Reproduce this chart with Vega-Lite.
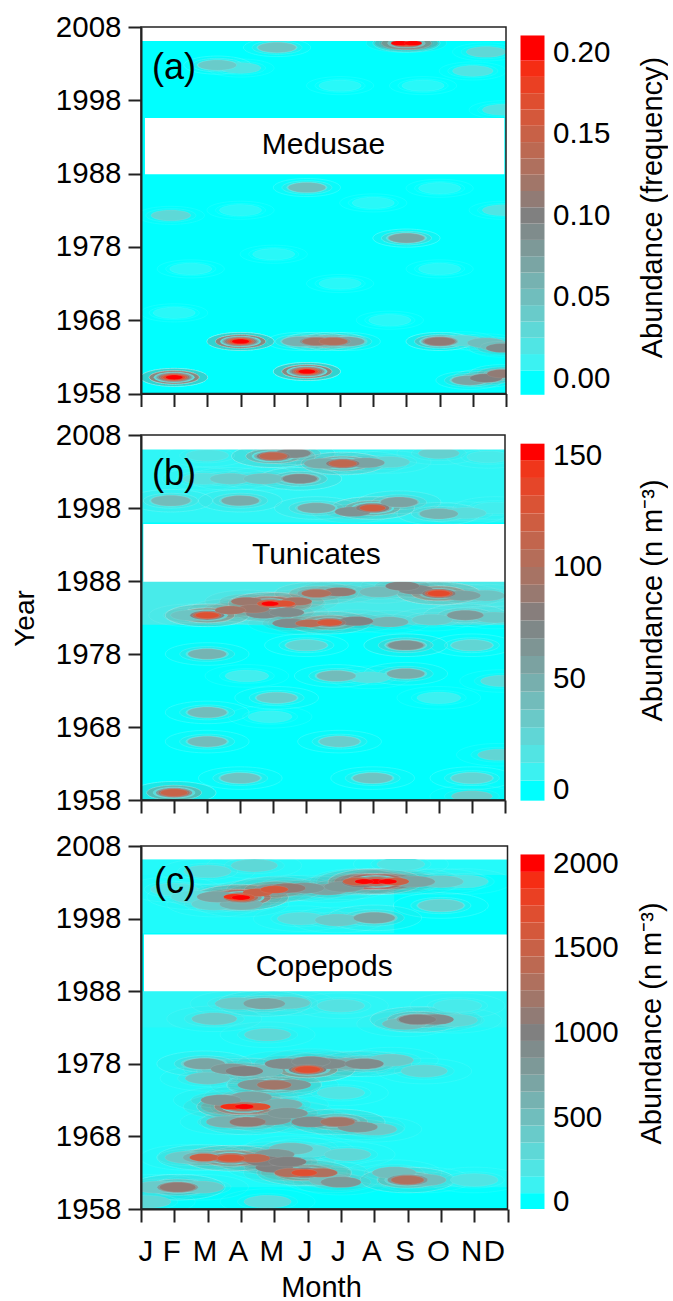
{"$schema":"https://vega.github.io/schema/vega-lite/v6.json","background":"white","padding":{"left":11,"top":12,"right":0,"bottom":0},
"config":{"font":"Liberation Sans","view":{"stroke":null},"axis":{"labelFont":"Liberation Sans","titleFont":"Liberation Sans","labelFontSize":29.5,"titleFontSize":29,"labelColor":"#000","titleColor":"#000","titleFontWeight":"normal","grid":false,"tickColor":"#222","domainColor":"#222","tickWidth":2,"domainWidth":2,"tickSize":13}},
"datasets":{
"a":[{"m":2,"y":1960.2,"v":0.02},{"m":2,"y":1960.2,"v":0.05},{"m":2,"y":1960.2,"v":0.08},{"m":2,"y":1960.2,"v":0.11},{"m":2,"y":1960.2,"v":0.14},{"m":2,"y":1960.2,"v":0.17},{"m":2,"y":1960.2,"v":0.2},
{"m":4,"y":1965.1,"v":0.02},{"m":4,"y":1965.1,"v":0.05},{"m":4,"y":1965.1,"v":0.08},{"m":4,"y":1965.1,"v":0.11},{"m":4,"y":1965.1,"v":0.14},{"m":4,"y":1965.1,"v":0.17},{"m":4,"y":1965.1,"v":0.2},
{"m":6,"y":1961,"v":0.02},{"m":6,"y":1961,"v":0.05},{"m":6,"y":1961,"v":0.08},{"m":6,"y":1961,"v":0.11},{"m":6,"y":1961,"v":0.14},{"m":6,"y":1961,"v":0.17},{"m":6,"y":1961,"v":0.2},
{"m":5.8,"y":1965.1,"v":0.03},{"m":5.8,"y":1965.1,"v":0.06},{"m":6.3,"y":1965.1,"v":0.04},{"m":6.3,"y":1965.1,"v":0.08},{"m":6.3,"y":1965.1,"v":0.12},{"m":6.8,"y":1965.1,"v":0.04},{"m":6.8,"y":1965.1,"v":0.08},{"m":6.8,"y":1965.1,"v":0.13},{"m":7.2,"y":1965.1,"v":0.03},{"m":7.2,"y":1965.1,"v":0.07},
{"m":10,"y":1965.1,"v":0.02},{"m":10,"y":1965.1,"v":0.05},{"m":10,"y":1965.1,"v":0.08},{"m":10,"y":1965.1,"v":0.11},{"m":10.7,"y":1965.2,"v":0.03},{"m":11.4,"y":1964.9,"v":0.05},{"m":11.8,"y":1964.4,"v":0.05},{"m":11.9,"y":1964.2,"v":0.09},
{"m":10.9,"y":1959.8,"v":0.03},{"m":10.9,"y":1959.8,"v":0.07},{"m":11.4,"y":1960.1,"v":0.05},{"m":11.4,"y":1960.1,"v":0.1},{"m":11.9,"y":1960.7,"v":0.05},{"m":11.9,"y":1960.7,"v":0.11},
{"m":9,"y":1979.2,"v":0.02},{"m":9,"y":1979.2,"v":0.05},{"m":9,"y":1979.2,"v":0.07},
{"m":9,"y":2005.8,"v":0.05},{"m":9,"y":2005.8,"v":0.11},{"m":9,"y":2005.8,"v":0.16},{"m":8.8,"y":2005.8,"v":0.2},{"m":9.2,"y":2005.8,"v":0.2},
{"m":6,"y":1986.1,"v":0.02},{"m":6,"y":1986.1,"v":0.05},{"m":1.9,"y":1982.3,"v":0.03},{"m":5.1,"y":2005.2,"v":0.02},{"m":5.1,"y":2005.2,"v":0.045},{"m":3.3,"y":2002.8,"v":0.02},{"m":3.3,"y":2002.8,"v":0.04},{"m":4,"y":2002.4,"v":0.02},{"m":11,"y":2002,"v":0.02},{"m":11.4,"y":2004.6,"v":0.03},{"m":11.9,"y":1983,"v":0.02},{"m":11.9,"y":1996.7,"v":0.02},
{"m":2.5,"y":1975,"v":0.005},{"m":5,"y":1977,"v":0.005},{"m":7,"y":1973,"v":0.005},{"m":10,"y":1975,"v":0.005},{"m":4,"y":1983,"v":0.005},{"m":8,"y":1984,"v":0.005},{"m":10,"y":1986,"v":0.005},{"m":7,"y":2000,"v":0.005},{"m":9.5,"y":2000,"v":0.005},{"m":2,"y":1969,"v":0.005},{"m":8.5,"y":1968,"v":0.005}],
"ab":[{"lo":-0.01,"hi":0.005,"v":0},{"lo":0.005,"hi":0.015,"v":0.01},{"lo":0.015,"hi":0.025,"v":0.02},{"lo":0.025,"hi":0.035,"v":0.03},{"lo":0.035,"hi":0.045,"v":0.04},{"lo":0.045,"hi":0.055,"v":0.05},{"lo":0.055,"hi":0.065,"v":0.06},{"lo":0.065,"hi":0.075,"v":0.07},{"lo":0.075,"hi":0.085,"v":0.08},{"lo":0.085,"hi":0.095,"v":0.09},{"lo":0.095,"hi":0.105,"v":0.1},{"lo":0.105,"hi":0.115,"v":0.11},{"lo":0.115,"hi":0.125,"v":0.12},{"lo":0.125,"hi":0.135,"v":0.13},{"lo":0.135,"hi":0.145,"v":0.14},{"lo":0.145,"hi":0.155,"v":0.15},{"lo":0.155,"hi":0.165,"v":0.16},{"lo":0.165,"hi":0.175,"v":0.17},{"lo":0.175,"hi":0.185,"v":0.18},{"lo":0.185,"hi":0.195,"v":0.19},{"lo":0.195,"hi":0.2104,"v":0.2}],
"b":[{"m":5,"y":2005.1,"v":15},{"m":5,"y":2005.1,"v":45},{"m":5,"y":2005.1,"v":80},{"m":5,"y":2005.1,"v":110},{"m":5.6,"y":2005.5,"v":40},{"m":5.6,"y":2005.5,"v":70},{"m":7.1,"y":2004.1,"v":15},{"m":7.1,"y":2004.1,"v":45},{"m":7.1,"y":2004.1,"v":80},{"m":7.1,"y":2004.1,"v":110},{"m":6.5,"y":2004.1,"v":50},{"m":7.8,"y":2004.2,"v":55},{"m":8.5,"y":2004.3,"v":25},
{"m":5.8,"y":2002,"v":20},{"m":5.8,"y":2002,"v":45},{"m":5.8,"y":2002,"v":70},{"m":4.7,"y":2002,"v":35},{"m":3.7,"y":2002,"v":30},{"m":2.9,"y":2002,"v":18},{"m":10,"y":2005.5,"v":28},{"m":3,"y":2005.2,"v":15},{"m":11.5,"y":2005,"v":12},{"m":1.9,"y":1999,"v":18},{"m":1.9,"y":1999,"v":40},{"m":4,"y":1999,"v":20},{"m":4,"y":1999,"v":50},
{"m":8,"y":1998,"v":15},{"m":8,"y":1998,"v":45},{"m":8,"y":1998,"v":80},{"m":8,"y":1998,"v":120},{"m":6.3,"y":1998,"v":20},{"m":6.3,"y":1998,"v":50},{"m":7.4,"y":1997.5,"v":65},{"m":8.8,"y":1998.8,"v":30},{"m":8.8,"y":1998.8,"v":55},{"m":10,"y":1997.2,"v":20},{"m":10,"y":1997.2,"v":45},{"m":10.8,"y":1997.3,"v":20},{"m":11.7,"y":1998,"v":10},
{"m":10,"y":1986.3,"v":40},{"m":10,"y":1986.3,"v":80},{"m":10,"y":1986.3,"v":110},{"m":10,"y":1986.3,"v":135},{"m":8.9,"y":1987.3,"v":75},{"m":9.3,"y":1986.8,"v":70},{"m":10.7,"y":1986,"v":55},{"m":11.4,"y":1986,"v":35},{"m":8.2,"y":1986.5,"v":40},
{"m":4.9,"y":1984.9,"v":40},{"m":4.9,"y":1984.9,"v":85},{"m":4.9,"y":1984.9,"v":120},{"m":4.9,"y":1984.9,"v":155},{"m":5.3,"y":1984.9,"v":130},{"m":4.2,"y":1985.2,"v":90},{"m":6.3,"y":1986.3,"v":50},{"m":6.3,"y":1986.3,"v":100},{"m":7,"y":1986.5,"v":85},{"m":5.7,"y":1985.2,"v":95},
{"m":3,"y":1983.3,"v":30},{"m":3,"y":1983.3,"v":75},{"m":3,"y":1983.3,"v":105},{"m":3,"y":1983.3,"v":130},{"m":3.7,"y":1984,"v":95},{"m":4.4,"y":1984.2,"v":90},{"m":2.5,"y":1983.3,"v":35},
{"m":6.7,"y":1982.3,"v":40},{"m":6.7,"y":1982.3,"v":85},{"m":6.7,"y":1982.3,"v":125},{"m":6.1,"y":1982.2,"v":105},{"m":5.5,"y":1982.2,"v":70},{"m":7.5,"y":1982.5,"v":75},{"m":8.5,"y":1982.4,"v":45},{"m":4.7,"y":1983.5,"v":70},{"m":5.4,"y":1983.7,"v":70},{"m":10.8,"y":1983.3,"v":30},{"m":10.8,"y":1983.3,"v":60},{"m":11.7,"y":1983,"v":32},{"m":9.8,"y":1982.7,"v":30},
{"m":9,"y":1979.2,"v":18},{"m":9,"y":1979.2,"v":40},{"m":9,"y":1979.2,"v":65},{"m":6,"y":1979.2,"v":12},{"m":6,"y":1979.2,"v":25},{"m":11,"y":1979.2,"v":12},{"m":11,"y":1979.2,"v":25},{"m":3,"y":1978,"v":15},{"m":3,"y":1978,"v":45},
{"m":6.9,"y":1975,"v":15},{"m":6.9,"y":1975,"v":40},{"m":9,"y":1975.3,"v":18},{"m":9,"y":1975.3,"v":50},{"m":7.9,"y":1974.8,"v":18},{"m":11.9,"y":1974.3,"v":20},{"m":4.2,"y":1975,"v":10},{"m":5.1,"y":1972,"v":12},{"m":5.1,"y":1972,"v":30},{"m":10,"y":1972,"v":8},{"m":3,"y":1970,"v":15},{"m":3,"y":1970,"v":40},{"m":4.9,"y":1969.4,"v":7},
{"m":3,"y":1966,"v":15},{"m":3,"y":1966,"v":40},{"m":7,"y":1966,"v":12},{"m":7,"y":1966,"v":30},{"m":11.8,"y":1964.2,"v":25},{"m":4,"y":1961,"v":12},{"m":4,"y":1961,"v":35},{"m":8,"y":1961,"v":12},{"m":8,"y":1961,"v":35},{"m":11,"y":1961,"v":10},{"m":11,"y":1961,"v":25},
{"m":2,"y":1959,"v":20},{"m":2,"y":1959,"v":60},{"m":2,"y":1959,"v":90},{"m":2,"y":1959,"v":115},{"m":11,"y":1958.5,"v":30}],
"bb":[{"lo":-5,"hi":4,"v":0},{"lo":4,"hi":12,"v":8},{"lo":12,"hi":20,"v":16},{"lo":20,"hi":28,"v":24},{"lo":28,"hi":36,"v":32},{"lo":36,"hi":44,"v":40},{"lo":44,"hi":52,"v":48},{"lo":52,"hi":60,"v":56},{"lo":60,"hi":68,"v":64},{"lo":68,"hi":76,"v":72},{"lo":76,"hi":84,"v":80},{"lo":84,"hi":92,"v":88},{"lo":92,"hi":100,"v":96},{"lo":100,"hi":108,"v":104},{"lo":108,"hi":116,"v":112},{"lo":116,"hi":124,"v":120},{"lo":124,"hi":132,"v":128},{"lo":132,"hi":140,"v":136},{"lo":140,"hi":148,"v":144},{"lo":148,"hi":155.4,"v":155}],
"c":[{"m":7.6,"y":2003,"v":1000},{"m":8.05,"y":2003.1,"v":350},{"m":8.05,"y":2003.1,"v":800},{"m":8.05,"y":2003.1,"v":1300},{"m":8.05,"y":2003.1,"v":2000},{"m":7.7,"y":2003.1,"v":2000},{"m":8.4,"y":2003.1,"v":2000},{"m":8.6,"y":2003.1,"v":1500},{"m":7.5,"y":2003.1,"v":1500},{"m":9.2,"y":2003.1,"v":700},{"m":10,"y":2003.1,"v":400},{"m":10.7,"y":2003.1,"v":200},
{"m":4,"y":2000.9,"v":300},{"m":4,"y":2000.9,"v":700},{"m":4,"y":2000.9,"v":1200},{"m":4,"y":2000.9,"v":1600},{"m":4,"y":2000.9,"v":2000},{"m":3.8,"y":2001,"v":1900},{"m":4.5,"y":2001.6,"v":1500},{"m":5,"y":2002,"v":800},{"m":5,"y":2002,"v":1600},{"m":5.4,"y":2002.2,"v":1100},{"m":5.9,"y":2002.2,"v":800},{"m":6.6,"y":2002,"v":700},{"m":7.1,"y":2002.4,"v":800},{"m":3.3,"y":2001,"v":700},{"m":4,"y":2000,"v":600},{"m":3.2,"y":2000,"v":350},{"m":2.6,"y":2001,"v":250},
{"m":8,"y":1998.1,"v":300},{"m":8,"y":1998.1,"v":700},{"m":6.9,"y":1997.8,"v":400},{"m":5.8,"y":1998,"v":250},{"m":10,"y":1999.8,"v":150},{"m":10,"y":1999.8,"v":350},{"m":4.4,"y":2005.3,"v":300},{"m":8.8,"y":2005.5,"v":200},{"m":3,"y":2004.5,"v":250},{"m":2,"y":2002,"v":200},
{"m":4.7,"y":1986.3,"v":250},{"m":4.7,"y":1986.3,"v":700},{"m":3.9,"y":1986.3,"v":400},{"m":5.4,"y":1986.4,"v":400},{"m":9.3,"y":1984.1,"v":300},{"m":9.3,"y":1984.1,"v":650},{"m":9.3,"y":1984.1,"v":1000},{"m":9.8,"y":1984.1,"v":900},{"m":8.9,"y":1983.5,"v":500},{"m":10.4,"y":1984,"v":300},{"m":3.2,"y":1984.2,"v":400},{"m":4.8,"y":1982,"v":300},
{"m":6,"y":1977.2,"v":400},{"m":6,"y":1977.2,"v":1000},{"m":6,"y":1977.2,"v":1350},{"m":6,"y":1977.2,"v":1700},{"m":5.3,"y":1978,"v":900},{"m":6.6,"y":1978,"v":900},{"m":6.1,"y":1978.3,"v":900},{"m":7.7,"y":1978,"v":400},{"m":7.7,"y":1978,"v":900},{"m":7.2,"y":1978,"v":600},{"m":8.5,"y":1978.5,"v":400},{"m":9.5,"y":1977,"v":300},
{"m":4.1,"y":1977,"v":400},{"m":4.1,"y":1977,"v":1000},{"m":2.9,"y":1978,"v":300},{"m":2.9,"y":1978,"v":700},{"m":4.6,"y":1977,"v":500},{"m":3,"y":1976,"v":450},{"m":3.7,"y":1977.3,"v":800},{"m":5,"y":1975.1,"v":300},{"m":5,"y":1975.1,"v":800},{"m":5,"y":1975.1,"v":1200},{"m":4.5,"y":1975.1,"v":800},{"m":5.5,"y":1975.1,"v":800},
{"m":4.1,"y":1972.1,"v":350},{"m":4.1,"y":1972.1,"v":800},{"m":4.1,"y":1972.1,"v":1300},{"m":4.1,"y":1972.1,"v":2000},{"m":3.7,"y":1972.1,"v":1900},{"m":4.5,"y":1972.1,"v":1700},{"m":3.4,"y":1973,"v":800},{"m":4.3,"y":1973.4,"v":700},{"m":4.2,"y":1970,"v":450},{"m":4.2,"y":1970,"v":1100},{"m":3.6,"y":1970,"v":600},{"m":4.9,"y":1970.3,"v":800},
{"m":6.9,"y":1970,"v":400},{"m":6.9,"y":1970,"v":800},{"m":6.9,"y":1970,"v":1200},{"m":5.4,"y":1971.2,"v":800},{"m":6.1,"y":1970,"v":900},{"m":7.5,"y":1969.3,"v":800},{"m":8,"y":1969,"v":400},{"m":5.2,"y":1972.4,"v":600},
{"m":3.7,"y":1965,"v":400},{"m":3.7,"y":1965,"v":900},{"m":3.7,"y":1965,"v":1250},{"m":3.7,"y":1965,"v":1600},{"m":2.9,"y":1965.1,"v":600},{"m":2.9,"y":1965.1,"v":1500},{"m":4.4,"y":1965,"v":800},{"m":4.4,"y":1965,"v":1400},{"m":2.4,"y":1965.1,"v":400},{"m":5,"y":1963.7,"v":1000},{"m":5,"y":1965.5,"v":800},{"m":5.5,"y":1966.3,"v":500},{"m":4.7,"y":1964.6,"v":1000},{"m":5.4,"y":1964.5,"v":1000},{"m":6,"y":1966,"v":250},
{"m":5.9,"y":1963,"v":450},{"m":5.9,"y":1963,"v":1000},{"m":5.9,"y":1963,"v":1700},{"m":5.5,"y":1963,"v":1300},{"m":6.4,"y":1963,"v":1300},{"m":7,"y":1961.7,"v":800},{"m":6.7,"y":1962,"v":500},{"m":9,"y":1962,"v":350},{"m":9,"y":1962,"v":800},{"m":9,"y":1962,"v":1300},{"m":8.6,"y":1963,"v":500},{"m":9.5,"y":1962,"v":500},
{"m":2.1,"y":1961,"v":300},{"m":2.1,"y":1961,"v":750},{"m":2.1,"y":1961,"v":1100},{"m":1.5,"y":1961,"v":400},{"m":2.8,"y":1961,"v":400},{"m":11,"y":1962,"v":200},{"m":7.2,"y":1965.5,"v":300},{"m":1.2,"y":1959,"v":300},{"m":4.8,"y":1959,"v":250},{"m":7,"y":1974,"v":200},{"m":7,"y":1986,"v":220},{"m":10.5,"y":1986,"v":150}],
"cb":[{"lo":-44,"hi":50,"v":0},{"lo":50,"hi":150,"v":100},{"lo":150,"hi":250,"v":200},{"lo":250,"hi":350,"v":300},{"lo":350,"hi":450,"v":400},{"lo":450,"hi":550,"v":500},{"lo":550,"hi":650,"v":600},{"lo":650,"hi":750,"v":700},{"lo":750,"hi":850,"v":800},{"lo":850,"hi":950,"v":900},{"lo":950,"hi":1050,"v":1000},{"lo":1050,"hi":1150,"v":1100},{"lo":1150,"hi":1250,"v":1200},{"lo":1250,"hi":1350,"v":1300},{"lo":1350,"hi":1450,"v":1400},{"lo":1450,"hi":1550,"v":1500},{"lo":1550,"hi":1650,"v":1600},{"lo":1650,"hi":1750,"v":1700},{"lo":1750,"hi":1850,"v":1800},{"lo":1850,"hi":1950,"v":1900},{"lo":1950,"hi":2053,"v":2000}]
},
"resolve":{"scale":{"color":"independent","size":"independent"}},
"concat":[
{"width":365,"height":366.5,"encoding":{"x":{"field":"m","type":"quantitative","scale":{"domain":[1,12],"nice":false},"axis":{"values":[1,2,3,4,5,6,7,8,9,10,11,12],"labels":false,"title":null,"zindex":1}},"y":{"field":"y","type":"quantitative","scale":{"domain":[1958,2008],"nice":false,"zero":false},"axis":{"values":[1958,1968,1978,1988,1998,2008],"format":"d","title":null,"labelPadding":7,"zindex":1}}},
"layer":[
{"data":{"values":[{"m":1,"me":12,"y":1958,"ye":2006.1,"v":0}]},"mark":{"type":"rect"},"encoding":{"x2":{"field":"me"},"y2":{"field":"ye"},"color":{"field":"v","type":"quantitative","scale":{"domain":[0,0.1,0.2],"range":["#00ffff","#808080","#ff0000"]},"legend":null}}},
{"data":{"name":"a"},"mark":{"type":"point","filled":true,"clip":true,"size":4500,"fillOpacity":0.05,"shape":"M-1,0A1,0.27 0 1,1 1,0A1,0.27 0 1,1 -1,0Z","stroke":"white","strokeWidth":0.4,"strokeOpacity":0.2},"encoding":{"color":{"field":"v","type":"quantitative","legend":null},"order":{"field":"v"}}},
{"data":{"name":"a"},"mark":{"type":"point","filled":true,"clip":true,"size":2500,"fillOpacity":0.15,"shape":"M-1,0A1,0.27 0 1,1 1,0A1,0.27 0 1,1 -1,0Z","stroke":"white","strokeWidth":0.4,"strokeOpacity":0.2},"encoding":{"color":{"field":"v","type":"quantitative","legend":null},"order":{"field":"v"}}},
{"data":{"name":"a"},"mark":{"type":"point","filled":true,"clip":true,"opacity":1,"shape":"M-1,0A1,0.27 0 1,1 1,0A1,0.27 0 1,1 -1,0Z","stroke":"white","strokeWidth":0.3,"strokeOpacity":0.25},"encoding":{"color":{"field":"v","type":"quantitative","legend":null},"size":{"field":"v","type":"quantitative","legend":null,"scale":{"type":"linear","domain":[0,0.2],"range":[1800,300]}},"order":{"field":"v"}}},
{"data":{"values":[{"m":1.12,"me":11.95,"y":1987.9,"ye":1995.6},{"m":1,"me":12,"y":2006.1,"ye":2008}]},"mark":{"type":"rect","fill":"white"},"encoding":{"x2":{"field":"me"},"y2":{"field":"ye"}}},
{"data":{"values":[{"m":6.5,"y":1991.9,"t":"Medusae"}]},"mark":{"type":"text","fontSize":30,"align":"center","baseline":"middle","color":"#000"},"encoding":{"text":{"field":"t"}}},
{"data":{"values":[{"m":1.33,"y":2002.4,"t":"(a)"}]},"mark":{"type":"text","fontSize":36,"align":"left","baseline":"middle","color":"#000"},"encoding":{"text":{"field":"t"}}},
{"data":{"values":[{"m":1,"me":12,"y":1958,"ye":2008}]},"mark":{"type":"rect","fillOpacity":0,"stroke":"#222","strokeWidth":1.5},"encoding":{"x2":{"field":"me"},"y2":{"field":"ye"}}}
]},
{"width":24,"height":366.5,"data":{"name":"ab"},"mark":{"type":"rect"},"encoding":{"y":{"field":"lo","type":"quantitative","scale":{"domain":[-0.0092,0.2156],"nice":false,"zero":false},"axis":{"orient":"right","values":[0,0.05,0.1,0.15,0.2],"format":".2f","ticks":false,"domain":false,"labelPadding":8,"title":"Abundance (frequency)","titleAngle":270,"titleX":108,"titleY":180,"titleAlign":"center","titleBaseline":"middle"}},"y2":{"field":"hi"},"color":{"field":"v","type":"quantitative","scale":{"domain":[0,0.1,0.2],"range":["#00ffff","#808080","#ff0000"]},"legend":null}}},
{"width":364,"height":365,"encoding":{"x":{"field":"m","type":"quantitative","scale":{"domain":[1,12],"nice":false},"axis":{"values":[1,2,3,4,5,6,7,8,9,10,11,12],"labels":false,"title":null,"zindex":1}},"y":{"field":"y","type":"quantitative","scale":{"domain":[1958,2008],"nice":false,"zero":false},"axis":{"values":[1958,1968,1978,1988,1998,2008],"format":"d","title":"Year","titleFontSize":28,"titleX":-116,"titleY":183,"titleAlign":"center","titleAngle":270,"titleBaseline":"middle","labelPadding":7,"zindex":1}}},
"layer":[
{"data":{"values":[{"m":1,"me":12,"y":1958,"ye":2006.1,"v":0},{"m":1,"me":12,"y":1982,"ye":1988,"v":12},{"m":1,"me":12,"y":1996,"ye":2006.1,"v":5}]},"mark":{"type":"rect"},"encoding":{"x2":{"field":"me"},"y2":{"field":"ye"},"color":{"field":"v","type":"quantitative","scale":{"domain":[0,77,155],"range":["#00ffff","#808080","#ff0000"]},"legend":null}}},
{"data":{"name":"b"},"mark":{"type":"point","filled":true,"clip":true,"size":7000,"fillOpacity":0.05,"shape":"M-1,0A1,0.27 0 1,1 1,0A1,0.27 0 1,1 -1,0Z","stroke":"white","strokeWidth":0.4,"strokeOpacity":0.2},"encoding":{"color":{"field":"v","type":"quantitative","legend":null},"order":{"field":"v"}}},
{"data":{"name":"b"},"mark":{"type":"point","filled":true,"clip":true,"size":3000,"fillOpacity":0.14,"shape":"M-1,0A1,0.27 0 1,1 1,0A1,0.27 0 1,1 -1,0Z","stroke":"white","strokeWidth":0.4,"strokeOpacity":0.2},"encoding":{"color":{"field":"v","type":"quantitative","legend":null},"order":{"field":"v"}}},
{"data":{"name":"b"},"mark":{"type":"point","filled":true,"clip":true,"opacity":1,"shape":"M-1,0A1,0.27 0 1,1 1,0A1,0.27 0 1,1 -1,0Z","stroke":"white","strokeWidth":0.3,"strokeOpacity":0.25},"encoding":{"color":{"field":"v","type":"quantitative","legend":null},"size":{"field":"v","type":"quantitative","legend":null,"scale":{"type":"linear","domain":[0,155],"range":[2000,300]}},"order":{"field":"v"}}},
{"data":{"values":[{"m":1.07,"me":12,"y":1987.9,"ye":1995.8},{"m":1,"me":12,"y":2006,"ye":2008}]},"mark":{"type":"rect","fill":"white"},"encoding":{"x2":{"field":"me"},"y2":{"field":"ye"}}},
{"data":{"values":[{"m":6.3,"y":1991.5,"t":"Tunicates"}]},"mark":{"type":"text","fontSize":30,"align":"center","baseline":"middle","color":"#000"},"encoding":{"text":{"field":"t"}}},
{"data":{"values":[{"m":1.33,"y":2002.6,"t":"(b)"}]},"mark":{"type":"text","fontSize":36,"align":"left","baseline":"middle","color":"#000"},"encoding":{"text":{"field":"t"}}},
{"data":{"values":[{"m":1,"me":12,"y":1958,"ye":2008}]},"mark":{"type":"rect","fillOpacity":0,"stroke":"#222","strokeWidth":1.5},"encoding":{"x2":{"field":"me"},"y2":{"field":"ye"}}}
]},
{"width":24,"height":370,"data":{"name":"bb"},"mark":{"type":"rect"},"encoding":{"y":{"field":"lo","type":"quantitative","scale":{"domain":[-6.95,159.3],"nice":false,"zero":false},"axis":{"orient":"right","values":[0,50,100,150],"format":"d","ticks":false,"domain":false,"labelPadding":8,"title":"Abundance (n m\u207B\u00B3)","titleAngle":270,"titleX":108,"titleY":165,"titleAlign":"center","titleBaseline":"middle"}},"y2":{"field":"hi"},"color":{"field":"v","type":"quantitative","scale":{"domain":[0,77,155],"range":["#00ffff","#808080","#ff0000"]},"legend":null}}},
{"width":366.5,"height":363,"encoding":{"x":{"field":"m","type":"quantitative","scale":{"domain":[1,12],"nice":false},"axis":{"values":[1,2,3,4,5,6,7,8,9,10,11,12],"labelExpr":"['J','F','M','A','M','J','J','A','S','O','N','D'][datum.value-1]","labelOffset":-3,"labelPadding":15,"title":"Month","titlePadding":8,"titleX":180,"titleAlign":"center","zindex":1}},"y":{"field":"y","type":"quantitative","scale":{"domain":[1958,2008],"nice":false,"zero":false},"axis":{"values":[1958,1968,1978,1988,1998,2008],"format":"d","title":null,"labelPadding":7,"zindex":1}}},
"layer":[
{"data":{"values":[{"m":1,"me":12,"y":1958,"ye":2006.1,"v":0},{"m":1,"me":12,"y":1961,"ye":1988,"v":30},{"m":1,"me":12,"y":1983,"ye":1988,"v":60},{"m":1,"me":8.6,"y":1996,"ye":2006.1,"v":30},{"m":1,"me":12,"y":2004,"ye":2006.1,"v":40}]},"mark":{"type":"rect"},"encoding":{"x2":{"field":"me"},"y2":{"field":"ye"},"color":{"field":"v","type":"quantitative","scale":{"domain":[0,1000,2000],"range":["#00ffff","#808080","#ff0000"]},"legend":null}}},
{"data":{"name":"c"},"mark":{"type":"point","filled":true,"clip":true,"size":9000,"fillOpacity":0.05,"shape":"M-1,0A1,0.27 0 1,1 1,0A1,0.27 0 1,1 -1,0Z","stroke":"white","strokeWidth":0.4,"strokeOpacity":0.2},"encoding":{"color":{"field":"v","type":"quantitative","legend":null},"order":{"field":"v"}}},
{"data":{"name":"c"},"mark":{"type":"point","filled":true,"clip":true,"size":3600,"fillOpacity":0.14,"shape":"M-1,0A1,0.27 0 1,1 1,0A1,0.27 0 1,1 -1,0Z","stroke":"white","strokeWidth":0.4,"strokeOpacity":0.2},"encoding":{"color":{"field":"v","type":"quantitative","legend":null},"order":{"field":"v"}}},
{"data":{"name":"c"},"mark":{"type":"point","filled":true,"clip":true,"opacity":1,"shape":"M-1,0A1,0.27 0 1,1 1,0A1,0.27 0 1,1 -1,0Z","stroke":"white","strokeWidth":0.3,"strokeOpacity":0.25},"encoding":{"color":{"field":"v","type":"quantitative","legend":null},"size":{"field":"v","type":"quantitative","legend":null,"scale":{"type":"linear","domain":[0,2000],"range":[2500,350]}},"order":{"field":"v"}}},
{"data":{"values":[{"m":1.09,"me":12,"y":1988,"ye":1995.8},{"m":1,"me":12,"y":2006.2,"ye":2008}]},"mark":{"type":"rect","fill":"white"},"encoding":{"x2":{"field":"me"},"y2":{"field":"ye"}}},
{"data":{"values":[{"m":6.5,"y":1991.4,"t":"Copepods"}]},"mark":{"type":"text","fontSize":30,"align":"center","baseline":"middle","color":"#000"},"encoding":{"text":{"field":"t"}}},
{"data":{"values":[{"m":1.39,"y":2003,"t":"(c)"}]},"mark":{"type":"text","fontSize":36,"align":"left","baseline":"middle","color":"#000"},"encoding":{"text":{"field":"t"}}},
{"data":{"values":[{"m":1,"me":12,"y":1958,"ye":2008}]},"mark":{"type":"rect","fillOpacity":0,"stroke":"#222","strokeWidth":1.5},"encoding":{"x2":{"field":"me"},"y2":{"field":"ye"}}}
]},
{"width":24,"height":363,"data":{"name":"cb"},"mark":{"type":"rect"},"encoding":{"y":{"field":"lo","type":"quantitative","scale":{"domain":[-44,2103],"nice":false,"zero":false},"axis":{"orient":"right","values":[0,500,1000,1500,2000],"format":"d","ticks":false,"domain":false,"labelPadding":8,"title":"Abundance (n m\u207B\u00B3)","titleAngle":270,"titleX":107,"titleY":177,"titleAlign":"center","titleBaseline":"middle"}},"y2":{"field":"hi"},"color":{"field":"v","type":"quantitative","scale":{"domain":[0,1000,2000],"range":["#00ffff","#808080","#ff0000"]},"legend":null}}}
],"columns":2,"spacing":{"row":41,"column":12.5},"bounds":"flush","align":{"row":"each","column":"each"}}
